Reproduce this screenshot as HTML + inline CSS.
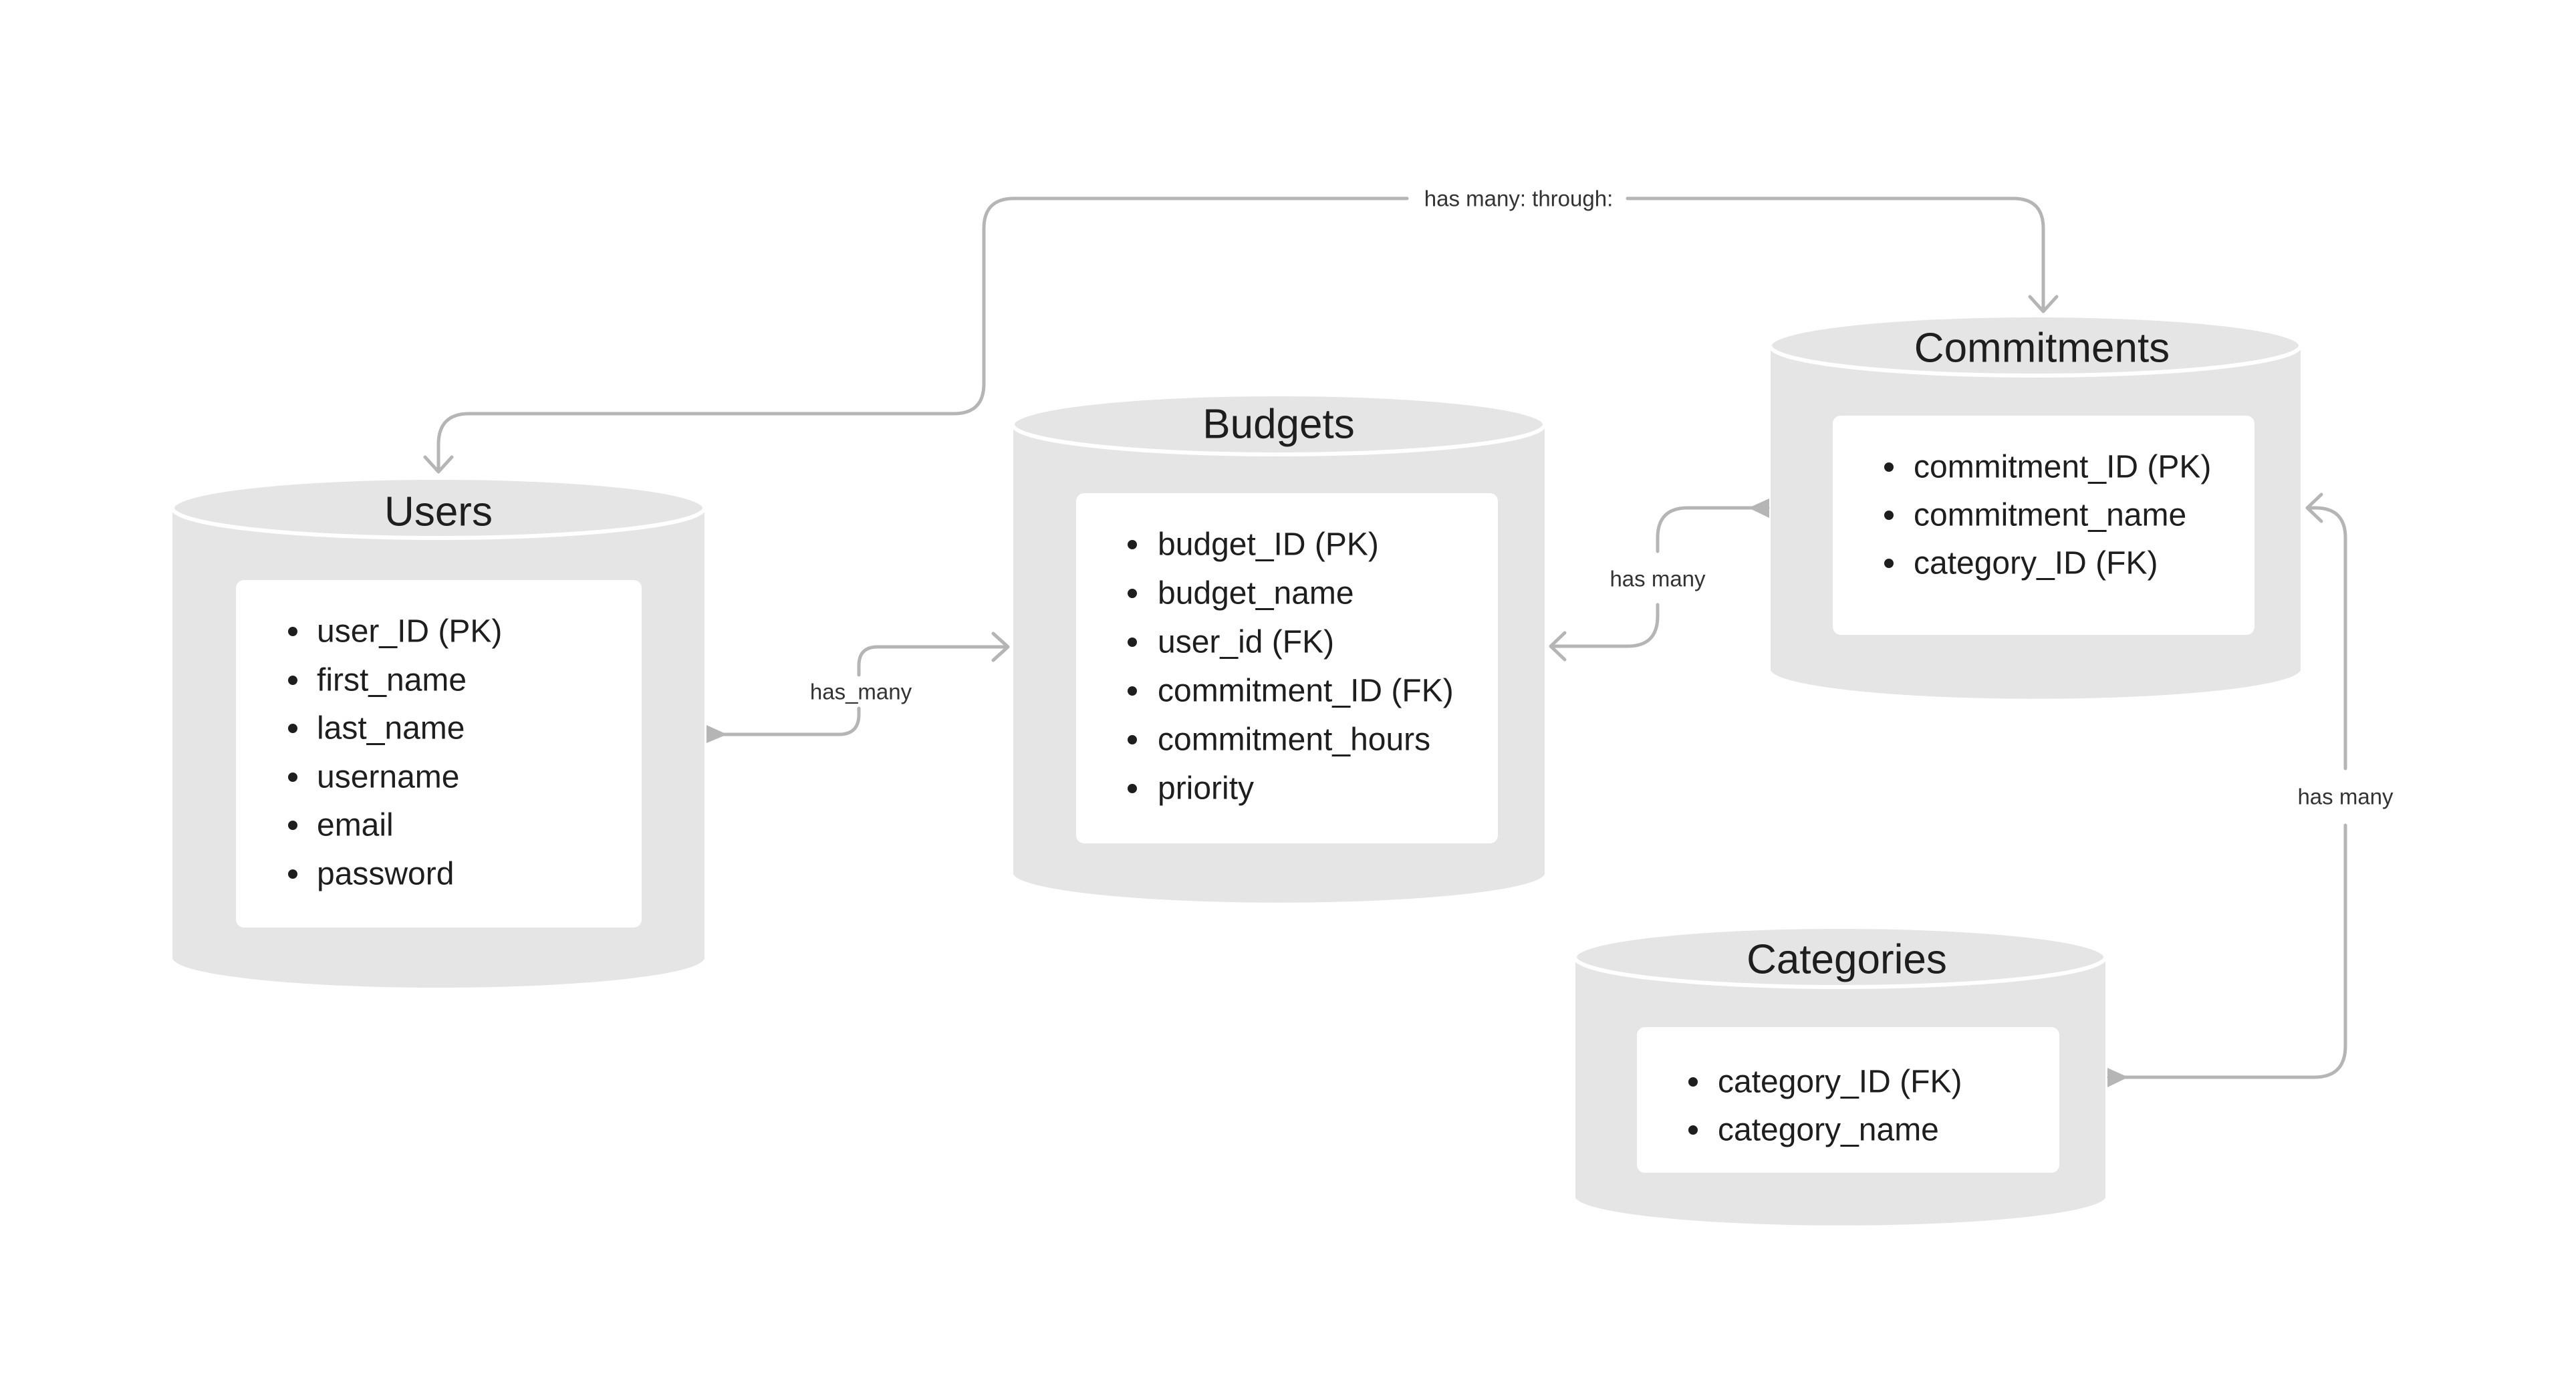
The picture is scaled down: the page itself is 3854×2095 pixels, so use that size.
<!DOCTYPE html>
<html><head><meta charset="utf-8"><style>
html,body{margin:0;padding:0;background:#fff;}
svg{display:block;}
text{font-family:"Liberation Sans",sans-serif;}
.t{font-size:62px;fill:#1e1e1e;text-anchor:middle;dominant-baseline:central;}
.i{font-size:48px;fill:#1e1e1e;dominant-baseline:central;}
.l{font-size:33px;fill:#333;text-anchor:middle;dominant-baseline:central;}
.c{fill:none;stroke:#b5b5b5;stroke-width:5;stroke-linecap:round;stroke-linejoin:round;}
.body{fill:#e5e5e5;}
.top{fill:#e5e5e5;stroke:#fff;stroke-width:6;}
</style></head><body>
<svg width="3854" height="2095" viewBox="0 0 3854 2095" xmlns="http://www.w3.org/2000/svg">
<!-- Users -->
<path class="body" d="M258 760 H1054 V1433 A398 45 0 0 1 258 1433 Z"/>
<ellipse class="top" cx="656" cy="760" rx="398" ry="45"/>
<text class="t" x="656" y="766">Users</text>
<rect x="353" y="868" width="607" height="520" rx="12" fill="#fff"/>
<g class="i">
<circle cx="438" cy="945" r="7" fill="#1e1e1e"/><text x="474" y="945">user_ID (PK)</text>
<circle cx="438" cy="1018" r="7" fill="#1e1e1e"/><text x="474" y="1018">first_name</text>
<circle cx="438" cy="1090" r="7" fill="#1e1e1e"/><text x="474" y="1090">last_name</text>
<circle cx="438" cy="1163" r="7" fill="#1e1e1e"/><text x="474" y="1163">username</text>
<circle cx="438" cy="1235" r="7" fill="#1e1e1e"/><text x="474" y="1235">email</text>
<circle cx="438" cy="1308" r="7" fill="#1e1e1e"/><text x="474" y="1308">password</text>
</g>
<!-- Budgets -->
<path class="body" d="M1516 635 H2311 V1308 A398 45 0 0 1 1516 1308 Z"/>
<ellipse class="top" cx="1913" cy="635" rx="398" ry="45"/>
<text class="t" x="1913" y="635">Budgets</text>
<rect x="1610" y="738" width="631" height="524" rx="12" fill="#fff"/>
<g class="i">
<circle cx="1694" cy="815" r="7" fill="#1e1e1e"/><text x="1732" y="815">budget_ID (PK)</text>
<circle cx="1694" cy="888" r="7" fill="#1e1e1e"/><text x="1732" y="888">budget_name</text>
<circle cx="1694" cy="961" r="7" fill="#1e1e1e"/><text x="1732" y="961">user_id (FK)</text>
<circle cx="1694" cy="1034" r="7" fill="#1e1e1e"/><text x="1732" y="1034">commitment_ID (FK)</text>
<circle cx="1694" cy="1107" r="7" fill="#1e1e1e"/><text x="1732" y="1107">commitment_hours</text>
<circle cx="1694" cy="1180" r="7" fill="#1e1e1e"/><text x="1732" y="1180">priority</text>
</g>
<!-- Commitments -->
<path class="body" d="M2649 517 H3442 V1003 A397 45 0 0 1 2649 1003 Z"/>
<ellipse class="top" cx="3045" cy="517" rx="397" ry="45"/>
<text class="t" x="3055" y="521">Commitments</text>
<rect x="2742" y="622" width="631" height="328" rx="12" fill="#fff"/>
<g class="i">
<circle cx="2826" cy="699" r="7" fill="#1e1e1e"/><text x="2863" y="699">commitment_ID (PK)</text>
<circle cx="2826" cy="771" r="7" fill="#1e1e1e"/><text x="2863" y="771">commitment_name</text>
<circle cx="2826" cy="843" r="7" fill="#1e1e1e"/><text x="2863" y="843">category_ID (FK)</text>
</g>
<!-- Categories -->
<path class="body" d="M2357 1432 H3150 V1792 A397 44 0 0 1 2357 1792 Z"/>
<ellipse class="top" cx="2753" cy="1432" rx="397" ry="45"/>
<text class="t" x="2763" y="1436">Categories</text>
<rect x="2449" y="1537" width="632" height="218" rx="12" fill="#fff"/>
<g class="i">
<circle cx="2533" cy="1619" r="7" fill="#1e1e1e"/><text x="2570" y="1619">category_ID (FK)</text>
<circle cx="2533" cy="1691" r="7" fill="#1e1e1e"/><text x="2570" y="1691">category_name</text>
</g>

<!-- has many through -->
<path class="c" d="M656 704 V665 Q656 619 702 619 H1427 Q1472 619 1472 574 V342 Q1472 297 1517 297 H2105"/>
<path class="c" d="M2435 297 H3012 Q3057 297 3057 342 V464"/>
<path class="c" d="M3037 444 L3057 466 L3077 444"/>
<path class="c" d="M636 684 L656 706 L676 684"/>
<text class="l" x="2272" y="297">has many: through:</text>

<!-- has_many users-budgets -->
<polygon points="1057,1085 1057,1112 1088,1099" fill="#b5b5b5"/>
<path class="c" d="M1060 1099 H1255 Q1285 1099 1285 1069 V1060"/>
<path class="c" d="M1285 1010 V996 Q1285 968 1313 968 H1506"/>
<path class="c" d="M1486 948 L1508 968 L1486 988"/>
<text class="l" x="1288" y="1035">has_many</text>

<!-- has many commitments-budgets -->
<polygon points="2647,746 2647,775 2616,760" fill="#b5b5b5"/>
<path class="c" d="M2645 760 H2525 Q2480 760 2480 805 V825"/>
<path class="c" d="M2480 905 V922 Q2480 967 2435 967 H2322"/>
<path class="c" d="M2341 947 L2320 967 L2341 987"/>
<text class="l" x="2480" y="866">has many</text>

<!-- has many categories-commitments -->
<polygon points="3153,1598 3153,1627 3184,1612" fill="#b5b5b5"/>
<path class="c" d="M3155 1612 H3462 Q3509 1612 3509 1565 V1235"/>
<path class="c" d="M3509 1150 V805 Q3509 760 3464 760 H3454"/>
<path class="c" d="M3473 740 L3452 760 L3473 780"/>
<text class="l" x="3509" y="1192">has many</text>
</svg>
</body></html>
